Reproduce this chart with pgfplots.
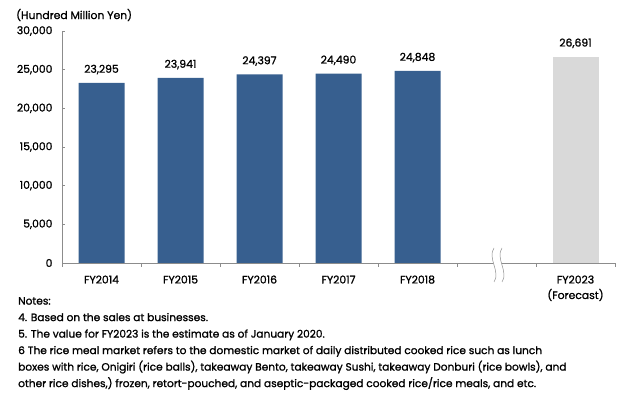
\documentclass[border=0pt]{standalone}
\usepackage{fontspec}
\setmainfont{Poppins}[FakeBold=1.2]
\usepackage{pgfplots}
\pgfplotsset{compat=1.18}
\definecolor{barblue}{HTML}{375F8F}
\definecolor{fcgrey}{HTML}{D9D9D9}
\definecolor{axgrey}{HTML}{8C8C8C}
\begin{document}
\begin{tikzpicture}[x=1pt,y=1pt]
\useasboundingbox (0,0) rectangle (642,398);
\begin{axis}[
  at={(62pt,135pt)}, anchor=south west,
  scale only axis, width=553pt, height=232pt,
  xmin=-0.5, xmax=6.5, ymin=0, ymax=30000,
  axis x line*=bottom, axis y line*=left,
  axis line style={axgrey, line width=0.8pt},
  every tick/.style={axgrey, line width=0.6pt},
  tick align=inside,
  ybar, bar width=46pt,
  xtick={0,1,2,3,4,6},
  xticklabels={FY2014,FY2015,FY2016,FY2017,FY2018,{FY2023\\(Forecast)}},
  major x tick style={draw=none},
  minor xtick={-0.5,0.5,...,6.5},
  minor tick length=4pt,
  ytick={0,5000,...,30000},
  scaled y ticks=false,
  major tick length=3pt,
  /pgf/number format/fixed,
  /pgf/number format/1000 sep={,},
  /pgf/number format/assume math mode=true,
  tick label style={font=\fontsize{10.8}{15.5}\selectfont},
  x tick label style={align=center, yshift=-6pt},
  y tick label style={xshift=-6pt},
  nodes near coords,
  every node near coord/.append style={font=\fontsize{10.8}{12}\selectfont, yshift=5pt},
  clip=false,
]
\addplot[fill=barblue, draw=none, bar shift=0pt] coordinates {(0,23295) (1,23941) (2,24397) (3,24490) (4,24848)};
\addplot[fill=fcgrey, draw=none, bar shift=0pt] coordinates {(6,26691)};
\end{axis}
\draw[white, fill=white] (494,150) .. controls (487,140) and (501,126) .. (494,116)
  -- (502,116) .. controls (509,126) and (495,140) .. (502,150) -- cycle;
\draw[axgrey, line width=0.5pt] (494,150) .. controls (487,140) and (501,126) .. (494,116);
\draw[axgrey, line width=0.5pt] (502,150) .. controls (495,140) and (509,126) .. (502,116);
\node[anchor=west, font=\fontsize{10.8}{12}\selectfont, inner sep=0pt] at (16,383) {(Hundred Million Yen)};
\node[anchor=north west, align=left, inner sep=0pt, font=\fontsize{10.6}{16.5}\selectfont] at (18,101)
{Notes:\\
4. Based on the sales at businesses.\\
5. The value for FY2023 is the estimate as of January 2020.\\
6 The rice meal market refers to the domestic market of daily distributed cooked rice such as lunch\\
boxes with rice, Onigiri (rice balls), takeaway Bento, takeaway Sushi, takeaway Donburi (rice bowls), and\\
other rice dishes,) frozen, retort-pouched, and aseptic-packaged cooked rice/rice meals, and etc.};
\end{tikzpicture}
\end{document}
